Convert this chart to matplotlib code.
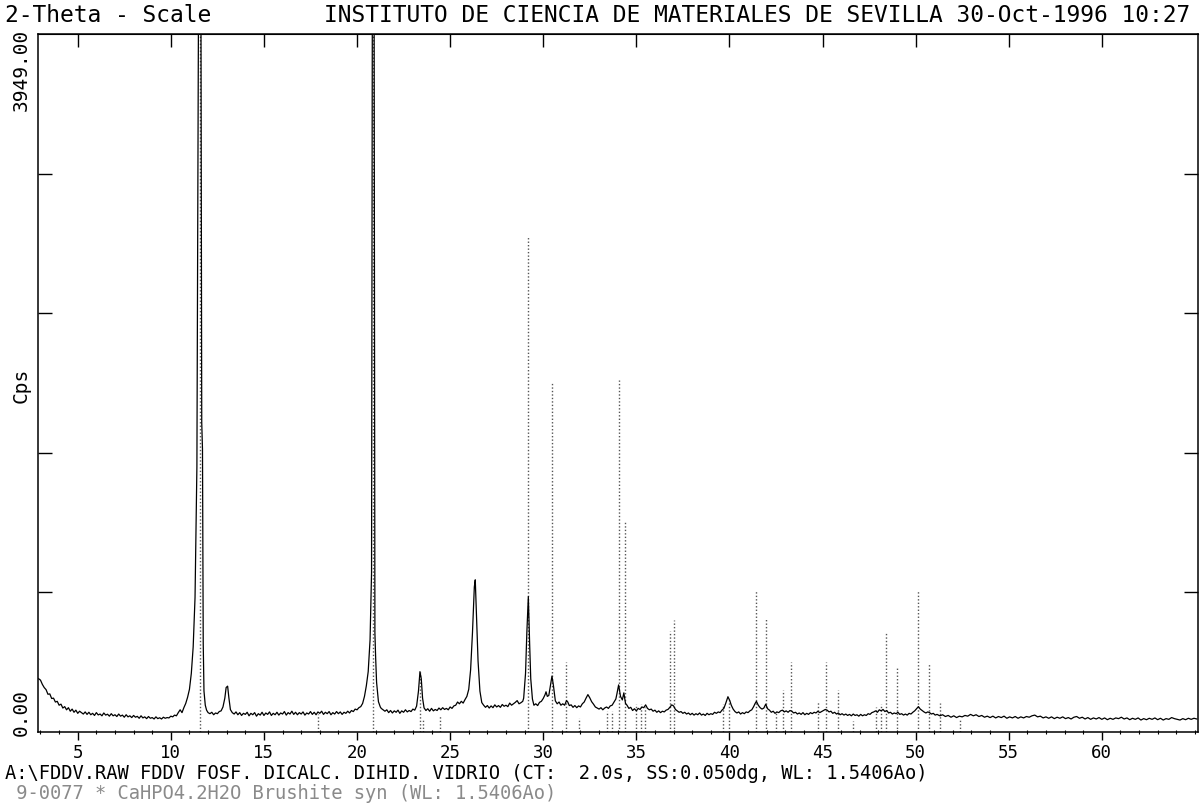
import matplotlib
matplotlib.use("Agg")
import matplotlib.pyplot as plt
import numpy as np

plt.rcParams["font.family"] = ["DejaVu Sans Mono"]

scan_low = [
    (2.90, 300), (3.00, 292), (3.10, 268), (3.20, 250), (3.30, 238), (3.40, 212),
    (3.50, 214), (3.60, 188), (3.70, 190), (3.80, 168), (3.90, 172), (4.00, 150),
    (4.10, 156), (4.20, 134), (4.30, 142), (4.40, 124), (4.50, 136), (4.60, 116),
    (4.70, 128), (4.80, 110), (4.90, 122), (5.00, 104), (5.10, 116), (5.20, 108),
    (5.30, 100), (5.40, 112), (5.50, 98), (5.60, 110), (5.70, 96), (5.80, 104),
    (5.90, 92), (6.00, 108), (6.10, 95), (6.20, 100), (6.30, 90), (6.40, 106),
    (6.50, 94), (6.60, 99), (6.70, 88), (6.80, 102), (6.90, 90), (7.00, 96),
    (7.10, 86), (7.20, 100), (7.30, 88), (7.40, 94), (7.50, 82), (7.60, 96),
    (7.70, 84), (7.80, 90), (7.90, 80), (8.00, 92), (8.10, 82), (8.20, 87),
    (8.30, 76), (8.40, 90), (8.50, 78), (8.60, 84), (8.70, 74), (8.80, 86),
    (8.90, 76), (9.00, 80), (9.10, 72), (9.20, 84), (9.30, 74), (9.40, 79),
    (9.50, 72), (9.60, 82), (9.70, 76), (9.80, 80), (9.90, 78), (10.00, 88),
    (10.10, 84), (10.20, 94), (10.30, 90), (10.40, 108), (10.50, 124),
    (10.60, 108), (10.70, 136), (10.80, 160), (10.90, 195), (11.00, 240),
    (11.10, 330), (11.20, 480), (11.30, 760), (11.40, 1500), (11.48, 3949),
    (11.62, 3949), (11.66, 1750), (11.70, 1600), (11.74, 500), (11.78, 230),
    (11.85, 150), (11.92, 122), (12.00, 108), (12.10, 102), (12.20, 110),
    (12.30, 96), (12.40, 106), (12.50, 102), (12.60, 114), (12.70, 118),
    (12.80, 140), (12.90, 190), (12.97, 250), (13.05, 258), (13.12, 190),
    (13.20, 125), (13.30, 108),
]
scan_mid = [
    (13.4, 100), (13.5, 112), (13.6, 96), (13.7, 108), (13.8, 92), (13.9, 104),
    (14.0, 98), (14.1, 110), (14.2, 90), (14.3, 104), (14.4, 96), (14.5, 108),
    (14.6, 88), (14.7, 102), (14.8, 94), (14.9, 110), (15.0, 92), (15.1, 106),
    (15.2, 98), (15.3, 112), (15.4, 92), (15.5, 104), (15.6, 96), (15.7, 110),
    (15.8, 94), (15.9, 106), (16.0, 100), (16.1, 114), (16.2, 94), (16.3, 108),
    (16.4, 100), (16.5, 116), (16.6, 98), (16.7, 110), (16.8, 96), (16.9, 108),
    (17.0, 100), (17.1, 112), (17.2, 94), (17.3, 106), (17.4, 100), (17.5, 114),
    (17.6, 98), (17.7, 110), (17.8, 96), (17.9, 112), (18.0, 104), (18.1, 116),
    (18.2, 98), (18.3, 110), (18.4, 102), (18.5, 114), (18.6, 96), (18.7, 108),
    (18.8, 100), (18.9, 114), (19.0, 102), (19.1, 112), (19.2, 98), (19.3, 110),
    (19.4, 104), (19.5, 116), (19.6, 106), (19.7, 120), (19.8, 114), (19.9, 128),
    (20.0, 124), (20.1, 136), (20.2, 142), (20.3, 160), (20.4, 200), (20.5, 260),
    (20.6, 340), (20.7, 520), (20.78, 900), (20.82, 3949), (20.92, 3949),
    (20.96, 560), (21.00, 420), (21.05, 280), (21.15, 170), (21.25, 140),
    (21.3, 132), (21.4, 124), (21.5, 116), (21.6, 124), (21.7, 108), (21.8, 120),
    (21.9, 106), (22.0, 118), (22.1, 110), (22.2, 122), (22.3, 104), (22.4, 118),
    (22.5, 110), (22.6, 124), (22.7, 112), (22.8, 120), (22.9, 114), (23.0, 128),
    (23.1, 122), (23.2, 145), (23.3, 230), (23.38, 340), (23.45, 300),
    (23.52, 190), (23.6, 135), (23.7, 120), (23.8, 130), (23.9, 116),
    (24.0, 132), (24.1, 118), (24.2, 126), (24.3, 120), (24.4, 134), (24.5, 124),
    (24.6, 136), (24.7, 126), (24.8, 132), (24.9, 124), (25.0, 140), (25.1, 132),
    (25.2, 146), (25.3, 150), (25.4, 168), (25.5, 158), (25.6, 172), (25.7, 162),
    (25.8, 182), (25.9, 200), (26.0, 240), (26.1, 350), (26.2, 560), (26.3, 820),
    (26.35, 860), (26.42, 650), (26.5, 400), (26.6, 230), (26.7, 165),
    (26.8, 150), (26.9, 138), (27.0, 148), (27.1, 134), (27.2, 146), (27.3, 136),
    (27.4, 152), (27.5, 140), (27.6, 148), (27.7, 138), (27.8, 154), (27.9, 144),
    (28.0, 150), (28.1, 142), (28.2, 162), (28.3, 150), (28.4, 158), (28.5, 166),
    (28.6, 176), (28.7, 158), (28.8, 164), (28.9, 172), (28.95, 190),
    (29.05, 330), (29.12, 560), (29.2, 765), (29.27, 500), (29.33, 300),
    (29.42, 185), (29.5, 150), (29.6, 158), (29.7, 148), (29.8, 166),
    (29.9, 172), (30.0, 188), (30.1, 210), (30.15, 226), (30.22, 200),
    (30.3, 205), (30.4, 270), (30.47, 315), (30.55, 260), (30.65, 175),
    (30.75, 158), (30.85, 168), (30.95, 150), (31.05, 158), (31.15, 150),
    (31.25, 176), (31.32, 168), (31.4, 148), (31.5, 152), (31.6, 138),
    (31.7, 148), (31.8, 136), (31.9, 146), (32.0, 140), (32.1, 158), (32.2, 168),
    (32.3, 190), (32.4, 210), (32.5, 192), (32.6, 170), (32.7, 156), (32.8, 140),
    (32.9, 134), (33.0, 128), (33.1, 136), (33.2, 124), (33.3, 134), (33.4, 140),
    (33.5, 132), (33.6, 146), (33.7, 150), (33.8, 168), (33.9, 185),
    (33.95, 210), (34.05, 265), (34.15, 200), (34.25, 180), (34.33, 220),
    (34.42, 160), (34.5, 150), (34.6, 132), (34.7, 138), (34.8, 120),
    (34.9, 130), (35.0, 118), (35.1, 132), (35.2, 126), (35.3, 140), (35.4, 136),
    (35.5, 152), (35.6, 132), (35.7, 124), (35.8, 128), (35.9, 116), (36.0, 122),
    (36.1, 110),
]
scan_high = [
    (36.2, 118), (36.3, 108), (36.4, 116), (36.5, 112), (36.6, 122), (36.7, 126),
    (36.8, 138), (36.9, 152), (37.0, 146), (37.1, 126), (37.2, 118), (37.3, 110),
    (37.4, 114), (37.5, 104), (37.6, 110), (37.7, 100), (37.8, 106), (37.9, 96),
    (38.0, 104), (38.1, 94), (38.2, 102), (38.3, 96), (38.4, 106), (38.5, 94),
    (38.6, 100), (38.7, 92), (38.8, 104), (38.9, 96), (39.0, 102), (39.1, 98),
    (39.2, 110), (39.3, 104), (39.4, 112), (39.5, 108), (39.6, 122), (39.7, 132),
    (39.8, 160), (39.92, 198), (40.02, 176), (40.1, 150), (40.2, 128),
    (40.3, 114), (40.4, 106), (40.5, 112), (40.6, 100), (40.7, 108), (40.8, 102),
    (40.9, 112), (41.0, 108), (41.1, 118), (41.2, 124), (41.3, 142),
    (41.38, 160), (41.45, 172), (41.55, 150), (41.65, 136), (41.75, 128),
    (41.85, 134), (41.95, 156), (42.05, 130), (42.15, 122), (42.25, 110),
    (42.35, 116), (42.45, 104), (42.55, 112), (42.65, 108), (42.75, 118),
    (42.85, 122), (42.95, 112), (43.05, 118), (43.15, 110), (43.25, 120),
    (43.35, 116), (43.45, 106), (43.55, 110), (43.65, 100), (43.75, 106),
    (43.85, 98), (43.95, 108), (44.05, 96), (44.15, 104), (44.25, 98),
    (44.35, 108), (44.45, 102), (44.55, 110), (44.65, 106), (44.75, 116),
    (44.85, 108), (44.95, 114), (45.05, 120), (45.15, 126), (45.25, 122),
    (45.35, 112), (45.45, 116), (45.55, 104), (45.65, 110), (45.75, 100),
    (45.85, 106), (45.95, 96), (46.05, 102), (46.15, 94), (46.25, 100),
    (46.35, 92), (46.45, 98), (46.55, 90), (46.65, 100), (46.75, 92),
    (46.85, 96), (46.95, 88), (47.05, 98), (47.15, 90), (47.25, 96), (47.35, 92),
    (47.45, 102), (47.55, 98), (47.65, 108), (47.75, 112), (47.85, 118),
    (47.95, 110), (48.05, 124), (48.15, 118), (48.25, 126), (48.35, 114),
    (48.45, 120), (48.55, 106), (48.65, 110), (48.75, 100), (48.85, 106),
    (48.95, 102), (49.05, 110), (49.15, 98), (49.25, 102), (49.35, 94),
    (49.45, 100), (49.55, 94), (49.65, 104), (49.75, 100), (49.85, 110),
    (49.95, 118), (50.05, 130), (50.15, 142), (50.25, 128), (50.35, 120),
    (50.45, 112), (50.55, 106), (50.65, 112), (50.75, 108), (50.85, 100),
    (50.95, 104), (51.05, 94), (51.15, 98), (51.3, 90), (51.45, 96), (51.6, 86),
    (51.75, 92), (51.9, 82), (52.05, 90), (52.2, 80), (52.35, 88), (52.5, 84),
    (52.65, 92), (52.8, 88), (52.95, 98), (53.1, 90), (53.25, 96), (53.4, 86),
    (53.55, 92), (53.7, 82), (53.85, 88), (54.0, 80), (54.15, 88), (54.3, 78),
    (54.45, 86), (54.6, 80), (54.75, 88), (54.9, 76), (55.05, 84), (55.2, 78),
    (55.35, 86), (55.5, 76), (55.65, 84), (55.8, 78), (55.95, 86), (56.1, 82),
    (56.25, 90), (56.4, 94), (56.55, 84), (56.7, 88), (56.85, 78), (57.0, 84),
    (57.15, 76), (57.3, 84), (57.45, 74), (57.6, 82), (57.75, 76), (57.9, 84),
    (58.05, 74), (58.2, 80), (58.35, 72), (58.5, 82), (58.65, 86), (58.8, 76),
    (58.95, 82), (59.1, 72), (59.25, 80), (59.4, 70), (59.55, 78), (59.7, 72),
    (59.85, 80), (60.0, 70), (60.15, 78), (60.3, 68), (60.45, 76), (60.6, 70),
    (60.75, 78), (60.9, 74), (61.05, 82), (61.2, 72), (61.35, 78), (61.5, 68),
    (61.65, 76), (61.8, 70), (61.95, 78), (62.1, 66), (62.25, 74), (62.4, 68),
    (62.55, 76), (62.7, 70), (62.85, 78), (63.0, 68), (63.15, 76), (63.3, 66),
    (63.45, 74), (63.6, 70), (63.75, 80), (63.9, 74), (64.05, 70), (64.2, 66),
    (64.35, 74), (64.5, 68), (64.65, 76), (64.8, 70), (64.95, 76), (65.1, 72),
]

# PDF 9-0077 brushite reference lines (2-theta, relative intensity %)
ref_theta = [11.58, 17.90, 20.87, 23.40, 23.55, 24.45, 29.20, 30.47, 31.25,
             31.90, 33.40, 33.72, 34.05, 34.37, 34.98, 35.25, 35.45, 36.80,
             37.02, 39.66, 39.98, 41.42, 41.98, 42.50, 42.88, 43.30, 44.75,
             45.20, 45.85, 46.62, 47.85, 48.15, 48.40, 49.00, 50.14, 50.72,
             51.30, 52.40]
ref_int = [100, 2.5, 100, 8.5, 1.7, 2.2, 71, 50, 10,
           2, 3, 3, 50.5, 30, 4, 4, 3.5, 14.5,
           16, 4, 4.5, 20.3, 16.3, 3, 6, 10, 4.2,
           10, 6, 1.5, 3.5, 4, 14.2, 9.2, 20.2, 9.9,
           4.1, 1.7]

y_max = 3949.0
x_ticks = [5, 10, 15, 20, 25, 30, 35, 40, 45, 50, 55, 60]

scan = np.array(scan_low + scan_mid + scan_high)

W, H = 1201, 805
fig = plt.figure(figsize=(W / 100, H / 100), dpi=100)
ax = fig.add_axes([37.7 / W, 1 - 731.7 / H, 1160 / W, 697.4 / H])

ref_h = np.array(ref_int) / 100.0 * y_max
ax.vlines(ref_theta, 0, ref_h, colors="#555555", linestyles=(0, (1, 1.5)), lw=1.0)
ax.plot(scan[:, 0], scan[:, 1], color="black", lw=0.9)

ax.set_xlim(2.85, 65.15)
ax.set_ylim(0, y_max)
for s in ax.spines.values():
    s.set_linewidth(1.1)

ax.set_xticks(x_ticks)
ax.set_xticks(np.arange(3, 66, 1), minor=True)
ax.tick_params(axis="x", which="major", direction="out", length=6, width=1,
               labelsize=12.5, pad=2.5)
ax.tick_params(axis="x", which="minor", direction="inout", length=3, width=0.8)
top = ax.secondary_xaxis("top")
top.set_xticks(x_ticks)
top.tick_params(direction="in", length=9, width=1, labeltop=False)

ax.set_yticks([y_max * k / 5 for k in range(1, 5)])
ax.tick_params(axis="y", direction="in", length=10, width=1, left=True,
               right=True, labelleft=False)

fig.text(5 / W, 1 - 15 / H, "2-Theta - Scale", fontsize=16.5, va="center")
fig.text(1190 / W, 1 - 15 / H,
         "INSTITUTO DE CIENCIA DE MATERIALES DE SEVILLA 30-Oct-1996 10:27",
         fontsize=16.5, va="center", ha="right")
fig.text(21 / W, 1 - 70 / H, "3949.00", fontsize=14, rotation=90,
         ha="center", va="center")
fig.text(21 / W, 1 - 385 / H, "Cps", fontsize=14, rotation=90,
         ha="center", va="center")
fig.text(21 / W, 1 - 712 / H, "0.00", fontsize=14, rotation=90,
         ha="center", va="center")
fig.text(5 / W, 1 - 773 / H,
         "A:\\FDDV.RAW FDDV FOSF. DICALC. DIHID. VIDRIO (CT:  2.0s, SS:0.050dg, WL: 1.5406Ao)",
         fontsize=13.5, va="center")
fig.text(5 / W, 1 - 793 / H,
         " 9-0077 * CaHPO4.2H2O Brushite syn (WL: 1.5406Ao)",
         fontsize=13.5, va="center", color="#8a8a8a")

fig.savefig("out.png", dpi=100, facecolor="white")
